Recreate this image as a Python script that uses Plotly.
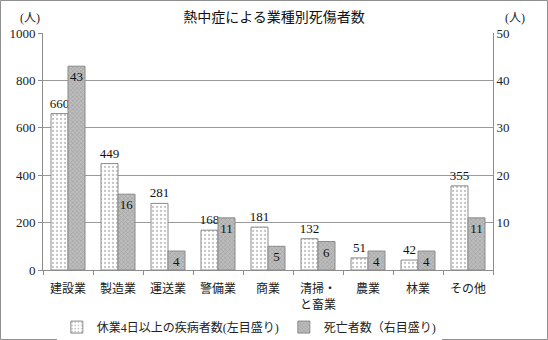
import plotly.graph_objects as go

categories = ["建設業", "製造業", "運送業", "警備業", "商業", "清掃・<br>と畜業", "農業", "林業", "その他"]
injured = [660, 449, 281, 168, 181, 132, 51, 42, 355]
deaths = [43, 16, 4, 11, 5, 6, 4, 4, 11]
left_ticks = [0, 200, 400, 600, 800, 1000]
right_ticks = [10, 20, 30, 40, 50]

FONT = "'Liberation Serif', 'Times New Roman', 'Noto Sans CJK JP', serif"
NUM_FONT = "Liberation Serif"
AXIS_GRAY = "#8c8c8c"
TXT = "#222"

fig = go.Figure()
fig.add_trace(go.Bar(
    x=categories, y=injured, name="休業4日以上の疾病者数(左目盛り)",
    text=[str(v) for v in injured], textposition="outside", cliponaxis=False,
    constraintext="none",
    textfont=dict(family=NUM_FONT, size=13, color="#111"),
    marker=dict(color="white", line=dict(color="#8a8a8a", width=1),
                pattern=dict(shape=".", fgcolor="#8a8a8a", bgcolor="white", size=4, solidity=0.25)),
    yaxis="y", offsetgroup="a",
))
fig.add_trace(go.Bar(
    x=categories, y=deaths, name="死亡者数（右目盛り)",
    text=[str(v) for v in deaths], textposition="inside", insidetextanchor="end",
    constraintext="none",
    textfont=dict(family=NUM_FONT, size=13, color="#111"),
    marker=dict(color="#b0b0b0", line=dict(color="#8a8a8a", width=1),
                pattern=dict(shape="x", fgcolor="#8a8a8a", bgcolor="#bdbdbd", size=3, solidity=0.4)),
    yaxis="y2", offsetgroup="b",
))

fig.update_layout(
    width=548, height=340,
    margin=dict(l=43, r=55, t=33, b=70, autoexpand=False),
    paper_bgcolor="white", plot_bgcolor="white",
    barmode="group", bargap=0.32, bargroupgap=0,
    font=dict(family=FONT, size=13, color=TXT),
    showlegend=True,
    legend=dict(orientation="h", xref="container", yref="container",
                x=0.455, xanchor="center", y=0.038, yanchor="middle",
                font=dict(family=FONT, size=12, color=TXT), traceorder="normal"),
    title=dict(text="熱中症による業種別死傷者数", x=0.5, xanchor="center", y=0.95, yanchor="middle",
               font=dict(family=FONT, size=14, color="#111")),
    xaxis=dict(type="category", showline=True, linecolor=AXIS_GRAY, linewidth=1,
               ticks="outside", tickson="boundaries", ticklen=4, tickcolor=AXIS_GRAY,
               automargin=False, ticklabelstandoff=8,
               tickfont=dict(family=FONT, size=12, color=TXT)),
    yaxis=dict(range=[0, 1000], tickvals=left_ticks, showgrid=True, gridcolor="#9a9a9a",
               showline=True, linecolor=AXIS_GRAY, linewidth=1, ticks="outside", ticklen=4,
               tickcolor=AXIS_GRAY, zeroline=False, automargin=False,
               tickfont=dict(family=NUM_FONT, size=13, color=TXT)),
    yaxis2=dict(range=[0, 50], tickvals=right_ticks, overlaying="y", side="right",
                showgrid=False, showline=True, linecolor=AXIS_GRAY, linewidth=1, zeroline=False,
                ticks="", automargin=False, tickfont=dict(family=NUM_FONT, size=13, color=TXT)),
)

# unit labels above each value axis
fig.add_annotation(text="(人)", xref="paper", yref="paper", x=-0.055, y=1.10, showarrow=False,
                   font=dict(family=FONT, size=12, color=TXT))
fig.add_annotation(text="(人)", xref="paper", yref="paper", x=1.075, y=1.10, showarrow=False,
                   font=dict(family=FONT, size=12, color=TXT))

# frame around the whole chart
fig.add_shape(type="rect", xref="paper", yref="paper",
              x0=-42.5 / 450, x1=504.5 / 450, y0=-69.5 / 237, y1=269.5 / 237,
              line=dict(color="#909090", width=1), layer="above")

fig.write_html("out.html")
